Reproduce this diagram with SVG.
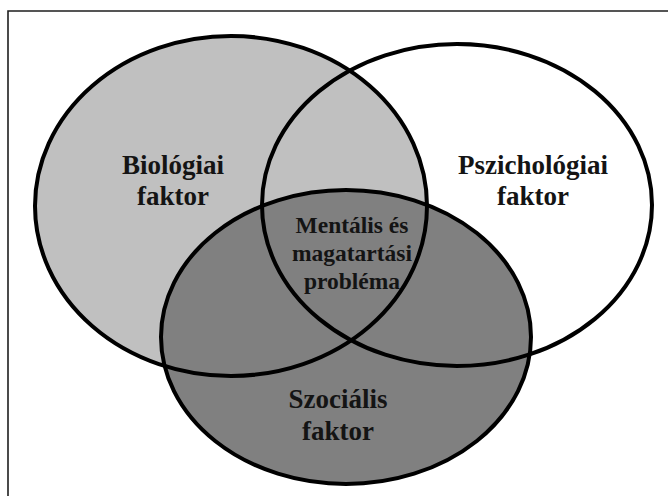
<svg xmlns="http://www.w3.org/2000/svg" width="668" height="496" viewBox="0 0 668 496">
<style>
.frame{fill:none;stroke:#1e1e1e;stroke-width:1.6}
.ring{fill:none;stroke:#000;stroke-width:4}
.lbl{font-family:"Liberation Serif","Times New Roman",serif;font-weight:bold;fill:#141414;text-anchor:middle}
.big{font-size:27px}
.mid{font-size:23.5px}
</style>
<rect x="0" y="0" width="668" height="496" fill="#fff"/>
<path class="frame" d="M8,496 V11 H668"/>
<g id="fills">
<ellipse cx="231" cy="206" rx="196" ry="170" fill="#c0c0c0"/>
<ellipse cx="346" cy="337" rx="185" ry="147" fill="#808080"/>
</g>
<g id="biologiai">
<ellipse class="ring" cx="231" cy="206" rx="196" ry="170"/>
<text class="lbl big" x="173" y="174">Biológiai</text>
<text class="lbl big" x="173" y="205">faktor</text>
</g>
<g id="pszichologiai">
<ellipse class="ring" cx="457" cy="205" rx="195" ry="161"/>
<text class="lbl big" x="533" y="174">Pszichológiai</text>
<text class="lbl big" x="533" y="205">faktor</text>
</g>
<g id="szocialis">
<ellipse class="ring" cx="346" cy="337" rx="185" ry="147"/>
<text class="lbl big" x="338" y="408">Szociális</text>
<text class="lbl big" x="338" y="440">faktor</text>
</g>
<g id="mentalis">
<text class="lbl mid" x="352" y="233">Mentális és</text>
<text class="lbl mid" x="352" y="261">magatartási</text>
<text class="lbl mid" x="352" y="289">probléma</text>
</g>
</svg>
